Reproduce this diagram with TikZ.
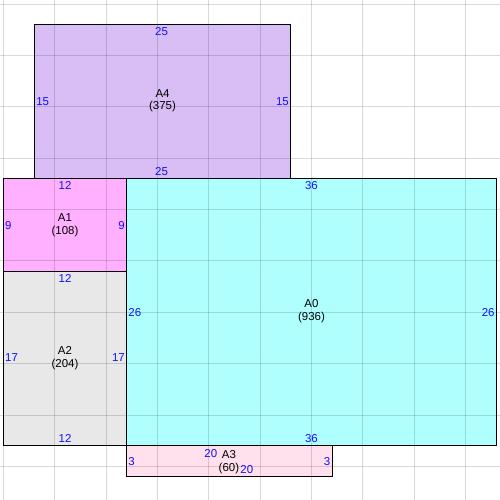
\documentclass[tikz,border=0pt]{standalone}
\usepackage{fontspec}
\setmainfont{Liberation Sans}
\definecolor{cA0}{HTML}{B0FFFF}
\definecolor{cA1}{HTML}{FFB0FF}
\definecolor{cA2}{HTML}{E8E8E8}
\definecolor{cA3}{HTML}{FFE0EC}
\definecolor{cA4}{HTML}{D8BEF5}
\definecolor{dimblue}{HTML}{1010FF}
\tikzset{
  room/.style={draw=black, line width=0.75pt},
  gridline/.style={draw=black, draw opacity=0.15, line width=0.65pt},
  dimlbl/.style={text=dimblue, inner sep=1pt, font=\fontsize{8.6}{9}\selectfont},
  namelbl/.style={text=black, align=center, inner sep=0pt, font=\fontsize{8.6}{9.6}\selectfont},
}
\begin{document}
\begin{tikzpicture}[x=7.7pt,y=7.7pt]
\useasboundingbox[fill=white] (-0.33,-5.28) rectangle (48.35,43.41);
% fills
\fill[cA4] (3,26) rectangle (28,41);
\fill[cA0] (12,0) rectangle (48,26);
\fill[cA1] (0,17) rectangle (12,26);
\fill[cA2] (0,0) rectangle (12,17);
\fill[cA3] (12,-3) rectangle (32,0);
% grid
\foreach \gx in {0,5,...,45} \draw[gridline] (\gx,-5.28) -- (\gx,43.41);
\foreach \gy in {-2,3,...,43} \draw[gridline] (-0.33,\gy) -- (48.35,\gy);
% outlines
\draw[room] (3,26) rectangle (28,41);
\draw[room] (12,0) rectangle (48,26);
\draw[room] (0,17) rectangle (12,26);
\draw[room] (0,0) rectangle (12,17);
\draw[room] (12,-3) rectangle (32,0);
% A4
\node[namelbl] (nA4) at (15.5,33.6) {A4\\(375)};
\node[dimlbl] (a4t) at (15.4,40.3) {25};
\node[dimlbl] (a4b) at (15.4,26.7) {25};
\node[dimlbl,anchor=west] (a4l) at (3.05,33.5) {15};
\node[dimlbl,anchor=east] (a4r) at (27.95,33.5) {15};
% A1
\node[namelbl] (nA1) at (6,21.5) {A1\\(108)};
\node[dimlbl] (a1t) at (6,25.3) {12};
\node[dimlbl,anchor=west] (a1l) at (0.02,21.45) {9};
\node[dimlbl,anchor=east] (a1r) at (11.98,21.45) {9};
% A2
\node[namelbl] (nA2) at (6,8.5) {A2\\(204)};
\node[dimlbl] (a2t) at (6,16.3) {12};
\node[dimlbl] (a2b) at (6,0.7) {12};
\node[dimlbl,anchor=west] (a2l) at (0.02,8.55) {17};
\node[dimlbl,anchor=east] (a2r) at (11.98,8.55) {17};
% A0
\node[namelbl] (nA0) at (30,13.1) {A0\\(936)};
\node[dimlbl] (a0t) at (30,25.3) {36};
\node[dimlbl] (a0b) at (30,0.7) {36};
\node[dimlbl,anchor=west] (a0l) at (12.02,12.95) {26};
\node[dimlbl,anchor=east] (a0r) at (47.98,12.95) {26};
% A3
\node[namelbl] (nA3) at (21.96,-1.56) {A3\\(60)};
\node[dimlbl] (a3t) at (20.2,-0.78) {20};
\node[dimlbl] (a3b) at (23.7,-2.34) {20};
\node[dimlbl,anchor=west] (a3l) at (12.02,-1.56) {3};
\node[dimlbl,anchor=east] (a3r) at (31.98,-1.56) {3};
\end{tikzpicture}
\end{document}
